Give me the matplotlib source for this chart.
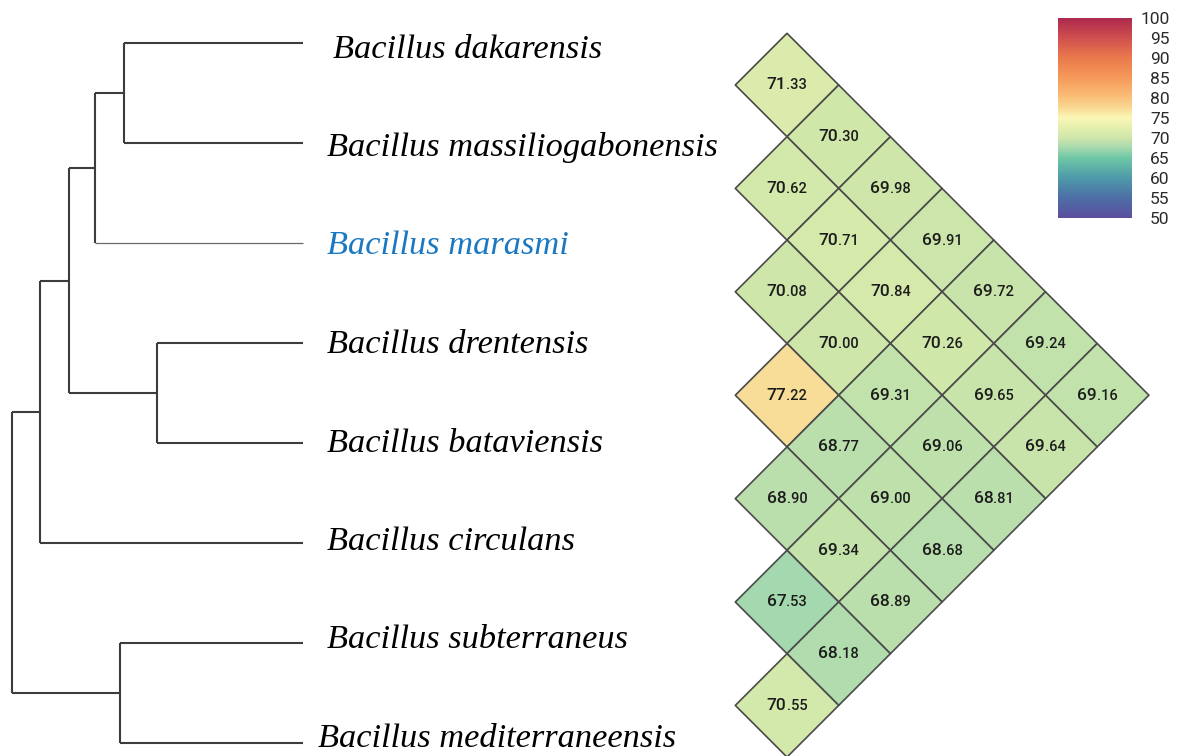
import matplotlib
matplotlib.use("Agg")
import matplotlib.pyplot as plt
import numpy as np
from matplotlib.collections import PolyCollection
from matplotlib.colors import LinearSegmentedColormap, Normalize
from matplotlib.cm import ScalarMappable
from matplotlib.offsetbox import TextArea, HPacker, AnnotationBbox

# ---------------- data ----------------
species = ["Bacillus dakarensis", "Bacillus massiliogabonensis", "Bacillus marasmi",
           "Bacillus drentensis", "Bacillus bataviensis", "Bacillus circulans",
           "Bacillus subterraneus", "Bacillus mediterraneensis"]
highlight = "Bacillus marasmi"

# tree merges: (child_a, child_b, height) ; clusters >= 8 are earlier merges
merge_a = [0, 8, 3, 9, 11, 6, 12]
merge_b = [1, 2, 4, 10, 5, 7, 13]
merge_h = [0.179, 0.208, 0.146, 0.234, 0.263, 0.183, 0.291]

# pairwise identity values, row i against species j > i
identity_rows = [
    [71.33, 70.30, 69.98, 69.91, 69.72, 69.24, 69.16],
    [70.62, 70.71, 70.84, 70.26, 69.65, 69.64],
    [70.08, 70.00, 69.31, 69.06, 68.81],
    [77.22, 68.77, 69.00, 68.68],
    [68.90, 69.34, 68.89],
    [67.53, 68.18],
    [70.55],
]

cbar_ticks = list(range(50, 101, 5))
cmap_values = [50, 55, 60, 65, 67.5, 70, 72.5, 75, 77.5, 80, 85, 90, 95, 100]
cmap_colors = ["#5b4e9f", "#4d6fa6", "#4e9aaa", "#6ec7a5", "#a5d8ae", "#cee6aa",
               "#e3efad", "#fbf6b5", "#f8da95", "#fac17a", "#f69a5a", "#ea7a4c",
               "#d0504f", "#ac2a4d"]

# label layout style (pixel nudges of the species names)
label_dx = [6, 0, 0, 0, 0, 0, 0, -9]
label_spacing = 0.985   # labels are spaced slightly tighter than the leaves
label_first = 0.145     # baseline of the first label below its leaf line

# ---------------- figure ----------------
W, H = 1178, 756
fig = plt.figure(figsize=(W / 100, H / 100), dpi=100)

def frac_x(px):
    return px / W

def frac_y(py):
    return 1 - py / H

# ---- dendrogram axes ----
root_h = max(merge_h)
ax_d = fig.add_axes([frac_x(12), frac_y(743), frac_x(303) - frac_x(12),
                     frac_y(43) - frac_y(743)])
ax_d.set_xlim(root_h, 0)
ax_d.set_ylim(len(species) - 1, 0)
ax_d.axis("off")

n = len(species)
pos_y = {i: float(i) for i in range(n)}
pos_h = {i: 0.0 for i in range(n)}
line_col = "#3c3c3c"
for k, (a, b, h) in enumerate(zip(merge_a, merge_b, merge_h)):
    node = n + k
    for c in (a, b):
        thin = c < n and species[c] == highlight
        ax_d.plot([pos_h[c], h], [pos_y[c], pos_y[c]],
                  color="#6a6a6a" if thin else line_col,
                  lw=0.9 if thin else 1.5, clip_on=False, solid_capstyle="butt")
    ax_d.plot([h, h], [pos_y[a], pos_y[b]], color=line_col, lw=1.5,
              clip_on=False, solid_capstyle="butt")
    pos_y[node] = (pos_y[a] + pos_y[b]) / 2
    pos_h[node] = h

for i, name in enumerate(species):
    ax_d.annotate(name, xy=(0, label_first + label_spacing * i),
                  xytext=(24 + label_dx[i], 0), textcoords="offset pixels",
                  ha="left", va="baseline", fontsize=24.75, fontstyle="italic",
                  family="Liberation Serif",
                  color="#1a78c2" if name == highlight else "black",
                  annotation_clip=False)

# ---- heatmap axes (rotated triangle) ----
cell = 51.7
x0px, y0px = 787, 85
ax_h = fig.add_axes([frac_x(700), 0, 1 - frac_x(700), 1])
ax_h.set_xlim((700 - x0px) / cell, (W - x0px) / cell)
ax_h.set_ylim((H - y0px) / cell, (0 - y0px) / cell)
ax_h.axis("off")

cmap = LinearSegmentedColormap.from_list(
    "spec", [((v - 50) / 50, c) for v, c in zip(cmap_values, cmap_colors)])
norm = Normalize(50, 100)

polys, vals, centers = [], [], []
for i, row in enumerate(identity_rows):
    for k, v in enumerate(row):
        j = i + 1 + k
        r = i + j - 1
        d = j - i - 1
        polys.append([(d - 1, r), (d, r - 1), (d + 1, r), (d, r + 1)])
        vals.append(v)
        centers.append((d, r))

pc = PolyCollection(polys, array=np.array(vals), cmap=cmap, norm=norm,
                    edgecolors="#4a4a4a", linewidths=1.2, clip_on=False)
ax_h.add_collection(pc)

num_font = ["Roboto", "DejaVu Sans"]
for (d, r), v in zip(centers, vals):
    s = f"{v:.2f}"
    ip, dp = s.split(".")
    box = HPacker(children=[
        TextArea(ip, textprops=dict(size=12.5, color="#1c1c1c", family=num_font,
                                    weight="medium")),
        TextArea("." + dp, textprops=dict(size=10.5, color="#1c1c1c", family=num_font,
                                          weight="medium")),
    ], align="baseline", pad=0, sep=0)
    ab = AnnotationBbox(box, (d, r), frameon=False, box_alignment=(0.5, 0.5),
                        pad=0, annotation_clip=False)
    ax_h.add_artist(ab)

# ---- colorbar ----
cax = fig.add_axes([frac_x(1058), frac_y(218), frac_x(1132) - frac_x(1058),
                    frac_y(18) - frac_y(218)])
cb = fig.colorbar(ScalarMappable(norm=norm, cmap=cmap), cax=cax, ticks=cbar_ticks)
cb.outline.set_visible(False)
cax.tick_params(length=0, pad=27)
for t in cax.get_yticklabels():
    t.set_horizontalalignment("right")
    t.set_family(num_font)
    t.set_fontsize(12.5)
    t.set_color("#2a2a2a")

fig.savefig("out.png", dpi=100)
